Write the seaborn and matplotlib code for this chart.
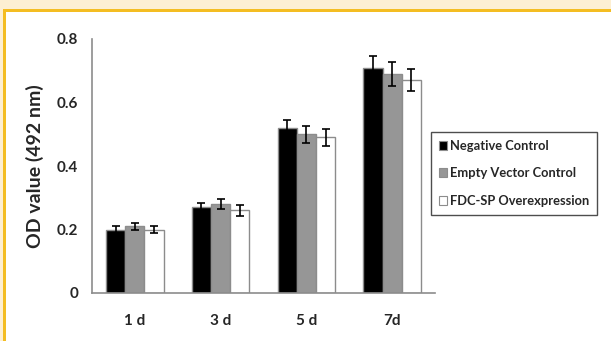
import matplotlib
matplotlib.use("Agg")
import matplotlib.pyplot as plt
import matplotlib.patches as mpatches
import numpy as np
import pandas as pd
import seaborn as sns

days = ["1 d", "3 d", "5 d", "7d"]
groups = ["Negative Control", "Empty Vector Control", "FDC-SP Overexpression"]
neg_ctrl = [0.20, 0.27, 0.52, 0.71]
empty_vec = [0.21, 0.28, 0.50, 0.69]
fdc_sp = [0.20, 0.26, 0.49, 0.67]
neg_err = [0.011, 0.014, 0.026, 0.036]
empty_err = [0.011, 0.016, 0.026, 0.037]
fdc_err = [0.010, 0.016, 0.026, 0.035]
y_ticks = [0, 0.2, 0.4, 0.6, 0.8]
y_tick_labels = ["0", "0.2", "0.4", "0.6", "0.8"]

colors = ["#000000", "#969696", "#ffffff"]

df = pd.DataFrame({
    "day": days * 3,
    "group": [g for g in groups for _ in days],
    "od": neg_ctrl + empty_vec + fdc_sp,
})
errs = [neg_err, empty_err, fdc_err]

sns.set_theme(style="white")
plt.rcParams["font.family"] = ["Lato", "DejaVu Sans"]

fig = plt.figure(figsize=(6.11, 3.41), dpi=100)
fig.patch.set_facecolor("white")

# decorative frame along the top and left edges
W, H = 611, 341
fig.add_artist(mpatches.Rectangle((0, 1 - 9 / H), 1, 9 / H, transform=fig.transFigure,
                                  facecolor="#fdefd2", edgecolor="none", zorder=0))
fig.add_artist(mpatches.Rectangle((0, 0), 3 / W, 1, transform=fig.transFigure,
                                  facecolor="#fdefd2", edgecolor="none", zorder=0))
fig.add_artist(mpatches.Rectangle((3 / W, 1 - 12 / H), 1, 3 / H, transform=fig.transFigure,
                                  facecolor="#f4bd22", edgecolor="none", zorder=1))
fig.add_artist(mpatches.Rectangle((3 / W, 0), 3 / W, 1 - 9 / H, transform=fig.transFigure,
                                  facecolor="#f4bd22", edgecolor="none", zorder=1))

ax = fig.add_axes([92 / W, 1 - 293 / H, (435 - 92) / W, (293 - 39) / H])

sns.barplot(data=df, x="day", y="od", hue="group", hue_order=groups,
            palette=colors, width=0.67, edgecolor="#8c8c8c", linewidth=1.0,
            errorbar=None, legend=False, ax=ax)

for cont, err in zip(ax.containers, errs):
    xs = [p.get_x() + p.get_width() / 2 for p in cont.patches]
    hs = [p.get_height() for p in cont.patches]
    ax.errorbar(xs, hs, yerr=err, fmt="none", ecolor="black",
                elinewidth=1.2, capsize=3.2, capthick=1.2, zorder=5)

ax.set_ylim(0, 0.8)
ax.set_xlim(-0.5, 3.5)
ax.set_yticks(y_ticks)
ax.set_yticklabels(y_tick_labels, fontsize=11, fontweight="bold")
ax.set_xticks(range(len(days)))
ax.set_xticklabels(days, fontsize=11, fontweight="bold")
ax.tick_params(axis="x", length=0, pad=15)
ax.tick_params(axis="y", direction="in", length=3.5, color="#8c8c8c", pad=10, width=1)
ax.set_xlabel("")
ax.set_ylabel("OD value (492 nm)", fontsize=14, fontweight="bold", labelpad=9)

for s in ["top", "right"]:
    ax.spines[s].set_visible(False)
for s in ["left", "bottom"]:
    ax.spines[s].set_color("#8c8c8c")
    ax.spines[s].set_linewidth(1.2)

# minor ticks between the day groups on the x axis
ax.set_xticks([0.5, 1.5, 2.5, 3.5], minor=True)
ax.tick_params(axis="x", which="minor", direction="in", length=4, color="#8c8c8c", width=1)

handles = [mpatches.Patch(facecolor=c, edgecolor="#8c8c8c", linewidth=0.8) for c in colors]
leg = fig.legend(handles, groups, loc="upper left",
                 bbox_to_anchor=(431 / W, 1 - 132 / H), bbox_transform=fig.transFigure,
                 frameon=True, fancybox=False, handlelength=0.65, handleheight=0.65,
                 handletextpad=0.25, labelspacing=1.2, borderpad=0.6, borderaxespad=0,
                 prop={"family": ["Lato", "DejaVu Sans"], "weight": "bold", "size": 9.3})
leg.get_frame().set_edgecolor("#222222")
leg.get_frame().set_linewidth(1.0)

fig.savefig("out.png", dpi=100)
